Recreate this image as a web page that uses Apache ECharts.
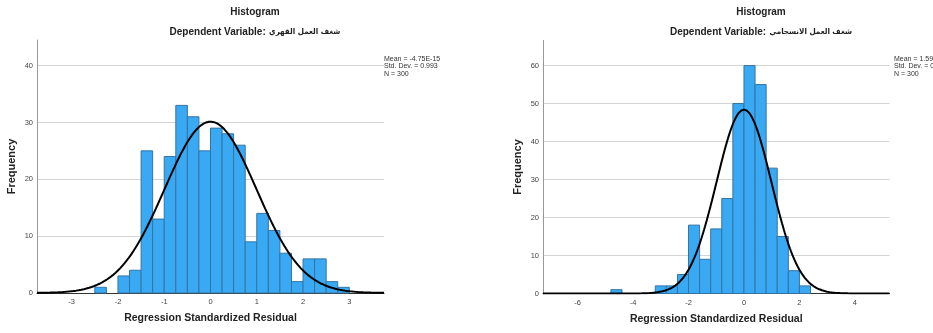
<!DOCTYPE html>
<html>
<head>
<meta charset="utf-8">
<script src="https://cdn.jsdelivr.net/npm/echarts@6/dist/echarts.min.js"></script>
<style>
html,body{margin:0;padding:0;background:#fff;}
#chart{width:933px;height:333px;}
</style>
</head>
<body>
<div id="chart"></div>
<script>
// ---- Left histogram (شغف العمل القهري) ----
const leftBinStarts = [-2.5,-2.25,-2.0,-1.75,-1.5,-1.25,-1.0,-0.75,-0.5,-0.25,0,0.25,0.5,0.75,1.0,1.25,1.5,1.75,2.0,2.25,2.5,2.75];
const leftCounts    = [1,0,3,4,25,13,24,33,31,25,29,28,26,9,14,11,7,2,6,6,2,1];
const leftBinWidth = 0.25;
const leftMean = 0, leftSD = 0.993, leftN = 300;
const leftXTicks = [-3,-2,-1,0,1,2,3];
const leftYTicks = [0,10,20,30,40];
const leftStats = ['Mean = -4.75E-15','Std. Dev. = 0.993','N = 300'];
const leftDepVar = 'شغف العمل القهري';

// ---- Right histogram (شغف العمل الانسجامي) ----
const rightBinStarts = [-4.8,-4.4,-4.0,-3.6,-3.2,-2.8,-2.4,-2.0,-1.6,-1.2,-0.8,-0.4,0,0.4,0.8,1.2,1.6,2.0];
const rightCounts    = [1,0,0,0,2,2,5,18,9,17,25,50,60,55,33,15,6,2];
const rightBinWidth = 0.4;
const rightMean = 0, rightSD = 0.989, rightN = 300;
const rightXTicks = [-6,-4,-2,0,2,4];
const rightYTicks = [0,10,20,30,40,50,60];
const rightStats = ['Mean = 1.59E-15','Std. Dev. = 0.989','N = 300'];
const rightDepVar = 'شغف العمل الانسجامي';

const FONT = '"Liberation Sans", Arial, "DejaVu Sans", sans-serif';
const ARFONT = '"DejaVu Sans Condensed", "DejaVu Sans", sans-serif';
const BAR_FILL = '#3aa9f4';
const BAR_STROKE = '#3474a3';

function binData(starts, counts, w) {
  return starts.map((s, i) => [s, s + w, counts[i]]);
}
function normalCurve(mean, sd, n, w, min, max) {
  const pts = [];
  const k = n * w / (sd * Math.sqrt(2 * Math.PI));
  const steps = 400;
  for (let i = 0; i <= steps; i++) {
    const x = min + (max - min) * i / steps;
    const z = (x - mean) / sd;
    pts.push([x, k * Math.exp(-0.5 * z * z)]);
  }
  return pts;
}
function renderBar(params, api) {
  const c = api.value(2);
  if (!c) return;
  const p0 = api.coord([api.value(0), 0]);
  const p1 = api.coord([api.value(1), c]);
  return {
    type: 'rect',
    shape: { x: p0[0], y: p1[1], width: p1[0] - p0[0], height: p0[1] - p1[1] },
    style: { fill: BAR_FILL, stroke: BAR_STROKE, lineWidth: 1 }
  };
}

const grids = [
  { left: 37, top: 40, width: 347, height: 253 },
  { left: 543, top: 40.5, width: 346.5, height: 253 }
];
const xRanges = [[-3.75, 3.75], [-7.25, 5.25]];
const yMax = [44.5, 66.6];
const xTicks = [leftXTicks, rightXTicks];
const yTicks = [leftYTicks, rightYTicks];

function xAxis(i) {
  return {
    type: 'value', gridIndex: i, min: xRanges[i][0], max: xRanges[i][1],
    name: 'Regression Standardized Residual', nameLocation: 'middle', nameGap: 20,
    nameTextStyle: { fontFamily: FONT, fontWeight: 'bold', fontSize: 10.5, color: '#222' },
    axisLine: { show: true, onZero: false, lineStyle: { color: '#333', width: 1 } },
    axisTick: { show: false, customValues: xTicks[i] },
    axisLabel: { customValues: xTicks[i], fontFamily: FONT, fontSize: 7.5, color: '#444', margin: 5 },
    splitLine: { show: false }
  };
}
function yAxis(i) {
  return {
    type: 'value', gridIndex: i, min: 0, max: yMax[i],
    name: 'Frequency', nameLocation: 'middle', nameGap: 20, nameRotate: 90,
    nameTextStyle: { fontFamily: FONT, fontWeight: 'bold', fontSize: 11, color: '#222' },
    axisLine: { show: true, onZero: false, lineStyle: { color: '#999', width: 1 } },
    axisTick: { show: false, customValues: yTicks[i] },
    axisLabel: { customValues: yTicks[i], fontFamily: FONT, fontSize: 7.5, color: '#444', margin: 4 },
    splitLine: { show: true, showMinLine: false, lineStyle: { color: '#d4d4d4', width: 1 } }
  };
}

function titleGraphics(cx, depVar) {
  return [
    { type: 'text', x: cx, y: 12, style: { text: 'Histogram', textAlign: 'center', textVerticalAlign: 'middle', font: 'bold 10px ' + FONT, fill: '#222' } },
    { type: 'text', x: cx, y: 32, style: {
        text: '{a|Dependent Variable:} {b|' + depVar + '}',
        textAlign: 'center', textVerticalAlign: 'middle',
        rich: {
          a: { fontFamily: FONT, fontWeight: 'bold', fontSize: 10, fill: '#222' },
          b: { fontFamily: ARFONT, fontWeight: 'bold', fontSize: 8, fill: '#222' }
        }
      } }
  ];
}
function statGraphics(x, lines) {
  return lines.map((t, j) => ({
    type: 'text', x: x, y: 59 + j * 7.5,
    style: { text: t, textAlign: 'left', textVerticalAlign: 'middle', font: '7px ' + FONT, fill: '#333' }
  }));
}

const chart = echarts.init(document.getElementById('chart'), null, { renderer: 'canvas' });
chart.setOption({
  animation: false,
  backgroundColor: '#fff',
  grid: grids,
  xAxis: [xAxis(0), xAxis(1)],
  yAxis: [yAxis(0), yAxis(1)],
  series: [
    { type: 'custom', xAxisIndex: 0, yAxisIndex: 0, renderItem: renderBar, encode: { x: [0, 1], y: 2 },
      data: binData(leftBinStarts, leftCounts, leftBinWidth), z: 2 },
    { type: 'line', xAxisIndex: 0, yAxisIndex: 0, showSymbol: false, symbol: 'none', z: 3,
      lineStyle: { color: '#000', width: 2 },
      data: normalCurve(leftMean, leftSD, leftN, leftBinWidth, xRanges[0][0], xRanges[0][1]) },
    { type: 'custom', xAxisIndex: 1, yAxisIndex: 1, renderItem: renderBar, encode: { x: [0, 1], y: 2 },
      data: binData(rightBinStarts, rightCounts, rightBinWidth), z: 2 },
    { type: 'line', xAxisIndex: 1, yAxisIndex: 1, showSymbol: false, symbol: 'none', z: 3,
      lineStyle: { color: '#000', width: 2 },
      data: normalCurve(rightMean, rightSD, rightN, rightBinWidth, xRanges[1][0], xRanges[1][1]) }
  ],
  graphic: [].concat(
    titleGraphics(255, leftDepVar),
    titleGraphics(761, rightDepVar),
    statGraphics(384, leftStats),
    statGraphics(894, rightStats)
  )
});
</script>
</body>
</html>
